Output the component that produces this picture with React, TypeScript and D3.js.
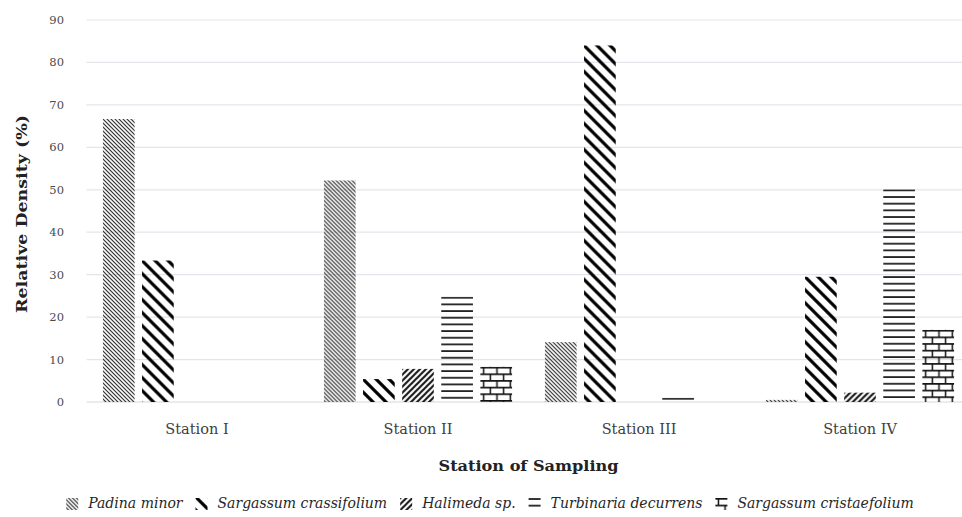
import React, { useEffect, useRef } from 'react'
import * as d3 from 'd3'

const stations = ['Station I', 'Station II', 'Station III', 'Station IV']
const species = ['Padina minor', 'Sargassum crassifolium', 'Halimeda sp.', 'Turbinaria decurrens', 'Sargassum cristaefolium']
const padina = [66.67, 52.2, 14.1, 0.5]
const crassifolium = [33.33, 5.4, 84.0, 29.5]
const halimeda = [0, 7.8, 0, 2.2]
const turbinaria = [0, 24.8, 1.0, 50.1]
const cristaefolium = [0, 8.3, 0, 17.0]
const yTicks = [0, 10, 20, 30, 40, 50, 60, 70, 80, 90]

const seriesValues = [padina, crassifolium, halimeda, turbinaria, cristaefolium]

const W = 962
const H = 517
const margin = { top: 20, left: 86.5, bottom: 115 }
const plotRight = 970.5
const serif = '"DejaVu Serif", serif'

// pattern tiles, one per species
type Tile = { w: number; h: number; draw: (g: d3.Selection<SVGPatternElement, unknown, null, undefined>) => void }
const tiles: Tile[] = [
  {
    w: 4, h: 4,
    draw: p => p.append('path').attr('d', 'M0,0L4,4M-1,3L1,5M3,-1L5,1')
      .attr('stroke', '#222').attr('stroke-width', 1.1).attr('fill', 'none')
  },
  {
    w: 13, h: 13,
    draw: p => p.append('path').attr('d', 'M0,0L13,13M-2,11L2,15M11,-2L15,2')
      .attr('stroke', '#000').attr('stroke-width', 3.2).attr('fill', 'none')
  },
  {
    w: 6, h: 6,
    draw: p => p.append('path').attr('d', 'M0,6L6,0M-1,1L1,-1M5,7L7,5')
      .attr('stroke', '#111').attr('stroke-width', 2).attr('fill', 'none')
  },
  {
    w: 10, h: 6.67,
    draw: p => p.append('path').attr('d', 'M0,1L10,1')
      .attr('stroke', '#222').attr('stroke-width', 1.8).attr('fill', 'none')
  },
  {
    w: 13.3, h: 13.3,
    draw: p => p.append('path')
      .attr('d', 'M0,0.8L13.3,0.8M0,7.45L13.3,7.45M3.3,0.8L3.3,7.45M9.95,7.45L9.95,14.1')
      .attr('stroke', '#111').attr('stroke-width', 1.5).attr('fill', 'none')
  }
]

export default function App() {
  const svgRef = useRef<SVGSVGElement>(null)

  useEffect(() => {
    document.body.style.margin = '0'
    if (!svgRef.current) return
    const svg = d3.select(svgRef.current)
    svg.selectAll('*').remove()

    const yBase = H - margin.bottom
    const x0 = d3.scaleBand<string>().domain(stations).range([margin.left, plotRight]).padding(0)
    const x1 = d3.scaleBand<string>().domain(species).range([0, x0.bandwidth()])
      .paddingInner(0.19).paddingOuter(0.42)
    const y = d3.scaleLinear().domain([0, 90]).range([yBase, margin.top])

    const defs = svg.append('defs')

    // grid
    svg.append('g')
      .selectAll('line')
      .data(yTicks)
      .join('line')
      .attr('x1', margin.left).attr('x2', plotRight)
      .attr('y1', d => y(d)).attr('y2', d => y(d))
      .attr('stroke', d => (d === 0 ? '#d4d7dc' : '#e2e6eb'))
      .attr('stroke-width', 1.2)

    svg.append('g')
      .selectAll('text')
      .data(yTicks)
      .join('text')
      .attr('x', 64).attr('y', d => y(d) + 4)
      .attr('text-anchor', 'end')
      .attr('font-family', serif).attr('font-size', 11.5)
      .attr('fill', '#4a4a4a')
      .text(d => d)

    // bars
    seriesValues.forEach((vals, si) => {
      const tile = tiles[si]
      vals.forEach((v, ci) => {
        if (v <= 0) return
        const bx = (x0(stations[ci]) ?? 0) + (x1(species[si]) ?? 0)
        const top = y(v)
        const id = `pat-${si}-${ci}`
        const pat = defs.append('pattern')
          .attr('id', id)
          .attr('patternUnits', 'userSpaceOnUse')
          .attr('width', tile.w).attr('height', tile.h)
          .attr('patternTransform', `translate(${bx},${top})`)
        tile.draw(pat)
        svg.append('rect')
          .attr('x', bx).attr('y', top)
          .attr('width', x1.bandwidth()).attr('height', yBase - top)
          .attr('fill', `url(#${id})`)
      })
    })

    // category labels
    svg.append('g')
      .selectAll('text')
      .data(stations)
      .join('text')
      .attr('x', d => (x0(d) ?? 0) + x0.bandwidth() / 2)
      .attr('y', 434)
      .attr('text-anchor', 'middle')
      .attr('font-family', serif).attr('font-size', 14.5)
      .attr('fill', '#404040')
      .text(d => d)

    // axis titles
    svg.append('text')
      .attr('x', (margin.left + plotRight) / 2).attr('y', 471)
      .attr('text-anchor', 'middle')
      .attr('font-family', serif).attr('font-size', 15).attr('font-weight', 'bold')
      .attr('fill', '#222')
      .attr('textLength', 180).attr('lengthAdjust', 'spacingAndGlyphs')
      .text('Station of Sampling')

    svg.append('text')
      .attr('transform', `translate(27,214) rotate(-90)`)
      .attr('text-anchor', 'middle')
      .attr('font-family', serif).attr('font-size', 15).attr('font-weight', 'bold')
      .attr('fill', '#222')
      .attr('textLength', 198).attr('lengthAdjust', 'spacingAndGlyphs')
      .text('Relative Density (%)')

    // legend
    const legend = svg.append('g')
    const iconTop = 498
    let cx = 0
    species.forEach((name, si) => {
      const tile = tiles[si]
      const id = `leg-${si}`
      const pat = defs.append('pattern')
        .attr('id', id)
        .attr('patternUnits', 'userSpaceOnUse')
        .attr('width', tile.w).attr('height', tile.h)
        .attr('patternTransform', `translate(${cx},${iconTop})`)
      tile.draw(pat)
      legend.append('rect')
        .attr('x', cx).attr('y', iconTop).attr('width', 12).attr('height', 12)
        .attr('fill', `url(#${id})`)
      const t = legend.append('text')
        .attr('x', cx + 22).attr('y', 508)
        .attr('font-family', serif).attr('font-size', 14).attr('font-style', 'italic')
        .attr('fill', '#262626')
        .text(name)
      const tw = (t.node() as SVGTextElement).getComputedTextLength()
      cx += 22 + tw + 13
    })
    const total = cx - 13
    const shift = 490 - total / 2
    legend.attr('transform', `translate(${shift},0)`)
    defs.selectAll('pattern[id^="leg-"]').each(function () {
      const p = d3.select(this)
      const tr = p.attr('patternTransform')
      p.attr('patternTransform', `translate(${shift},0) ${tr}`)
    })
  }, [])

  return <svg ref={svgRef} width={W} height={H} style={{ display: 'block', background: '#fff' }} />
}
